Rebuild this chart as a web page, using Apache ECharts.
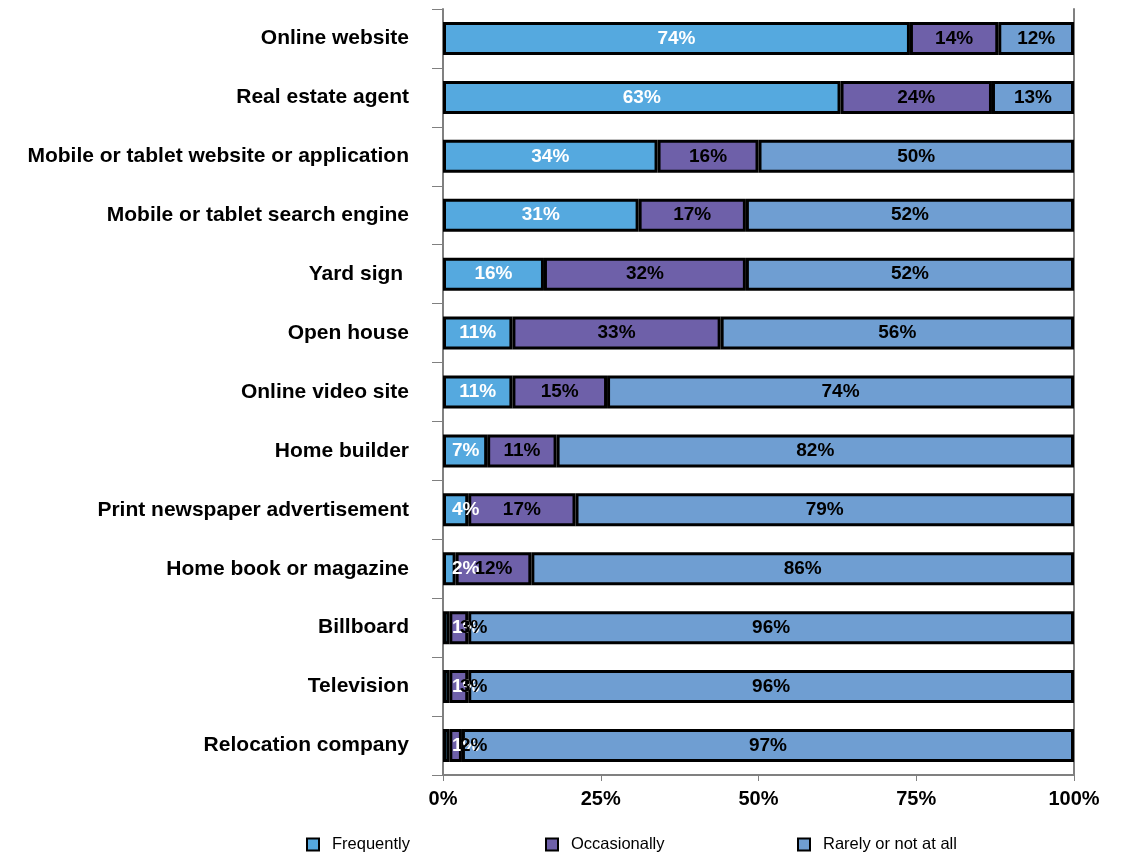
<!DOCTYPE html>
<html>
<head>
<meta charset="utf-8">
<script src="https://cdn.jsdelivr.net/npm/echarts@6/dist/echarts.min.js"></script>
<style>
  html, body { margin: 0; padding: 0; background: #fff; }
  #chart { width: 1122px; height: 853px; }
</style>
</head>
<body>
<div id="chart"></div>
<script>
// Sources used to look for a home, share of respondents by frequency of use
const categories = [
  'Online website',
  'Real estate agent',
  'Mobile or tablet website or application',
  'Mobile or tablet search engine',
  'Yard sign ',
  'Open house',
  'Online video site',
  'Home builder',
  'Print newspaper advertisement',
  'Home book or magazine',
  'Billboard',
  'Television',
  'Relocation company'
];
const frequently   = [74, 63, 34, 31, 16, 11, 11, 7, 4, 2, 1, 1, 1];
const occasionally = [14, 24, 16, 17, 32, 33, 15, 11, 17, 12, 3, 3, 2];
const rarely       = [12, 13, 50, 52, 52, 56, 74, 82, 79, 86, 96, 96, 97];
const xTicks = [0, 25, 50, 75, 100];

const FONT = '"Liberation Sans", Arial, Helvetica, sans-serif';
const colors = ['#55A9DF', '#6E60A9', '#6F9ED2'];

// Labels of very thin segments are nudged right so they stay inside the plot
function barSeries(name, data, color, labelColor, minLeft) {
  return {
    name: name,
    type: 'bar',
    stack: 'total',
    data: data,
    barWidth: '56%',
    itemStyle: { color: color, borderColor: '#000', borderWidth: 3 },
    label: {
      show: true,
      position: 'inside',
      formatter: '{c}%',
      color: labelColor,
      fontFamily: FONT,
      fontWeight: 'bold',
      fontSize: 19
    },
    labelLayout: function (p) {
      const r = p.labelRect;
      if (r && r.x < minLeft) return { dx: minLeft - r.x };
      return {};
    },
    emphasis: { disabled: true }
  };
}

const chart = echarts.init(document.getElementById('chart'), null, { renderer: 'canvas' });

function legendFor(name, left) {
  return {
    data: [name],
    left: left,
    top: 831,
    icon: 'rect',
    itemWidth: 12,
    itemHeight: 12,
    itemGap: 14,
    itemStyle: { borderColor: '#000', borderWidth: 2 },
    textStyle: { fontFamily: FONT, fontSize: 16.5, color: '#000', padding: [0, 0, 0, 8] },
    selectedMode: false
  };
}

chart.setOption({
  animation: false,
  backgroundColor: '#fff',
  grid: { left: 443, right: 48, top: 9, bottom: 78, containLabel: false },
  legend: [
    legendFor('Frequently', 301),
    legendFor('Occasionally', 540),
    legendFor('Rarely or not at all', 792)
  ],
  xAxis: {
    type: 'value',
    min: xTicks[0],
    max: xTicks[xTicks.length - 1],
    interval: 25,
    axisLine: { show: true, lineStyle: { color: '#808080', width: 2 } },
    axisTick: { show: true, length: 6, lineStyle: { color: '#808080', width: 1 } },
    splitLine: { show: false },
    axisLabel: {
      formatter: '{value}%',
      margin: 14,
      color: '#000',
      fontFamily: FONT,
      fontWeight: 'bold',
      fontSize: 20
    }
  },
  yAxis: [
    {
      type: 'category',
      data: categories,
      inverse: true,
      axisLine: { show: true, lineStyle: { color: '#808080', width: 2 } },
      axisTick: { show: true, length: 11, lineStyle: { color: '#808080', width: 1 } },
      axisLabel: {
        margin: 34,
        color: '#000',
        fontFamily: FONT,
        fontWeight: 'bold',
        fontSize: 21
      }
    },
    {
      type: 'category',
      data: categories,
      inverse: true,
      position: 'right',
      axisLine: { show: true, lineStyle: { color: '#808080', width: 2 } },
      axisTick: { show: false },
      axisLabel: { show: false }
    }
  ],
  series: [
    barSeries('Frequently', frequently, colors[0], '#fff', 452),
    barSeries('Occasionally', occasionally, colors[1], '#000', 460),
    barSeries('Rarely or not at all', rarely, colors[2], '#000', 0)
  ]
});
</script>
</body>
</html>
